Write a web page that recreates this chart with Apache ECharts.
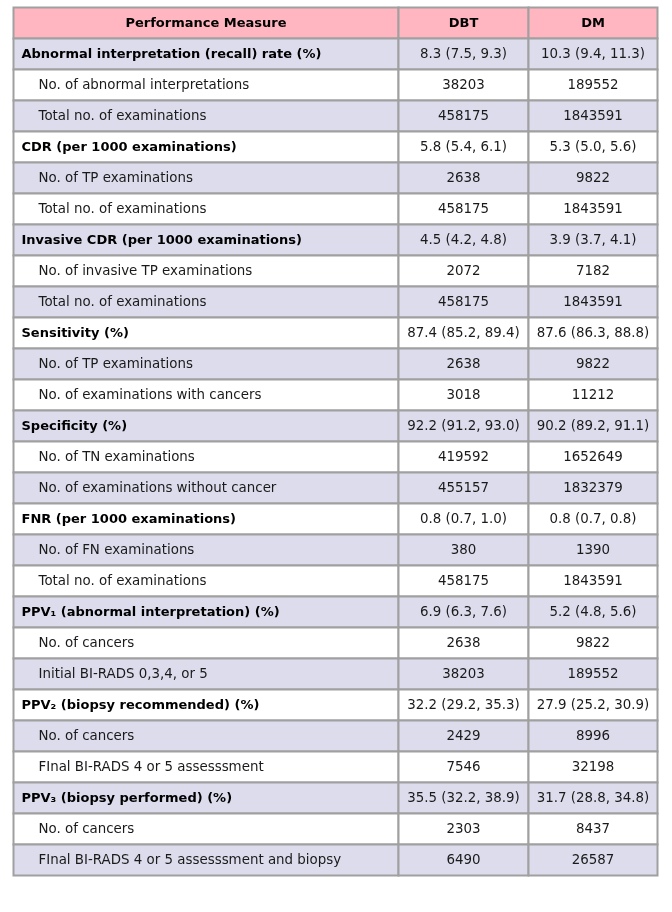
<!DOCTYPE html>
<html>
<head>
<meta charset="utf-8">
<script src="https://cdn.jsdelivr.net/npm/echarts@6/dist/echarts.min.js"></script>
<style>
  html, body { margin: 0; padding: 0; background: #fff; }
  #table { width: 672px; height: 912px; }
</style>
</head>
<body>
<div id="table"></div>
<script>
// 表头
var headers = ["Performance Measure", "DBT", "DM"];

// 指标名称（每三行一组：主指标 + 两个子项）
var measures = [
  "Abnormal interpretation (recall) rate (%)",
  "No. of abnormal interpretations",
  "Total no. of examinations",
  "CDR (per 1000 examinations)",
  "No. of TP examinations",
  "Total no. of examinations",
  "Invasive CDR (per 1000 examinations)",
  "No. of invasive TP examinations",
  "Total no. of examinations",
  "Sensitivity (%)",
  "No. of TP examinations",
  "No. of examinations with cancers",
  "Specificity (%)",
  "No. of TN examinations",
  "No. of examinations without cancer",
  "FNR (per 1000 examinations)",
  "No. of FN examinations",
  "Total no. of examinations",
  "PPV\u2081 (abnormal interpretation) (%)",
  "No. of cancers",
  "Initial BI-RADS 0,3,4, or 5",
  "PPV\u2082 (biopsy recommended) (%)",
  "No. of cancers",
  "FInal BI-RADS 4 or 5 assesssment",
  "PPV\u2083 (biopsy performed) (%)",
  "No. of cancers",
  "FInal BI-RADS 4 or 5 assesssment and biopsy"
];

var dbtValues = [
  "8.3 (7.5, 9.3)", "38203", "458175",
  "5.8 (5.4, 6.1)", "2638", "458175",
  "4.5 (4.2, 4.8)", "2072", "458175",
  "87.4 (85.2, 89.4)", "2638", "3018",
  "92.2 (91.2, 93.0)", "419592", "455157",
  "0.8 (0.7, 1.0)", "380", "458175",
  "6.9 (6.3, 7.6)", "2638", "38203",
  "32.2 (29.2, 35.3)", "2429", "7546",
  "35.5 (32.2, 38.9)", "2303", "6490"
];

var dmValues = [
  "10.3 (9.4, 11.3)", "189552", "1843591",
  "5.3 (5.0, 5.6)", "9822", "1843591",
  "3.9 (3.7, 4.1)", "7182", "1843591",
  "87.6 (86.3, 88.8)", "9822", "11212",
  "90.2 (89.2, 91.1)", "1652649", "1832379",
  "0.8 (0.7, 0.8)", "1390", "1843591",
  "5.2 (4.8, 5.6)", "9822", "189552",
  "27.9 (25.2, 30.9)", "8996", "32198",
  "31.7 (28.8, 34.8)", "8437", "26587"
];

// 列边界（x 轴数值单位）
var colEdges = [0, 385, 515, 644];

var myChart = echarts.init(document.getElementById("table"));

// 行编号：0 为表头
var rowIds = [];
for (var r = 0; r <= measures.length; r++) rowIds.push(r);

// 生成单元格数据 [列, 行, 文字]
var cells = [];
headers.forEach(function (h, c) { cells.push([c, 0, h]); });
measures.forEach(function (m, i) {
  cells.push([0, i + 1, m]);
  cells.push([1, i + 1, dbtValues[i]]);
  cells.push([2, i + 1, dmValues[i]]);
});

function renderCell(params, api) {
  var col = api.value(0);
  var row = api.value(1);
  var text = cells[params.dataIndex][2];
  var left = api.coord([colEdges[col], row]);
  var right = api.coord([colEdges[col + 1], row]);
  var h = api.size([0, 1])[1];
  var x = left[0], y = left[1] - h / 2, w = right[0] - left[0];

  var fill;
  if (row === 0) fill = "#ffb6c1";
  else fill = (row - 1) % 2 === 0 ? "#dcdcec" : "#ffffff";

  var isMain = row === 0 || (row - 1) % 3 === 0;
  var isLabel = col === 0 && row > 0;
  var isBold = isMain && (col === 0 || row === 0);
  var tx = isLabel ? x + (isMain ? 8 : 25) : x + w / 2;

  return {
    type: "group",
    children: [
      {
        type: "rect",
        shape: { x: x, y: y, width: w, height: h },
        style: { fill: fill, stroke: "#a0a0a0", lineWidth: 2 }
      },
      {
        type: "text",
        style: {
          text: text,
          x: tx,
          y: y + h / 2 + 0.5,
          align: isLabel ? "left" : "center",
          verticalAlign: "middle",
          fill: isBold ? "#000" : "#1a1a1a",
          fontFamily: "DejaVu Sans",
          fontSize: isBold ? 13 : 13.4,
          fontWeight: isBold ? "bold" : "normal"
        }
      }
    ]
  };
}

var option = {
  animation: false,
  grid: { left: 13.5, top: 7.5, width: 644, height: 868 },
  xAxis: { type: "value", min: 0, max: colEdges[3], show: false },
  yAxis: { type: "category", data: rowIds, inverse: true, show: false },
  series: [
    {
      type: "custom",
      renderItem: renderCell,
      encode: { x: 0, y: 1 },
      data: cells
    }
  ]
};

myChart.setOption(option);
</script>
</body>
</html>
